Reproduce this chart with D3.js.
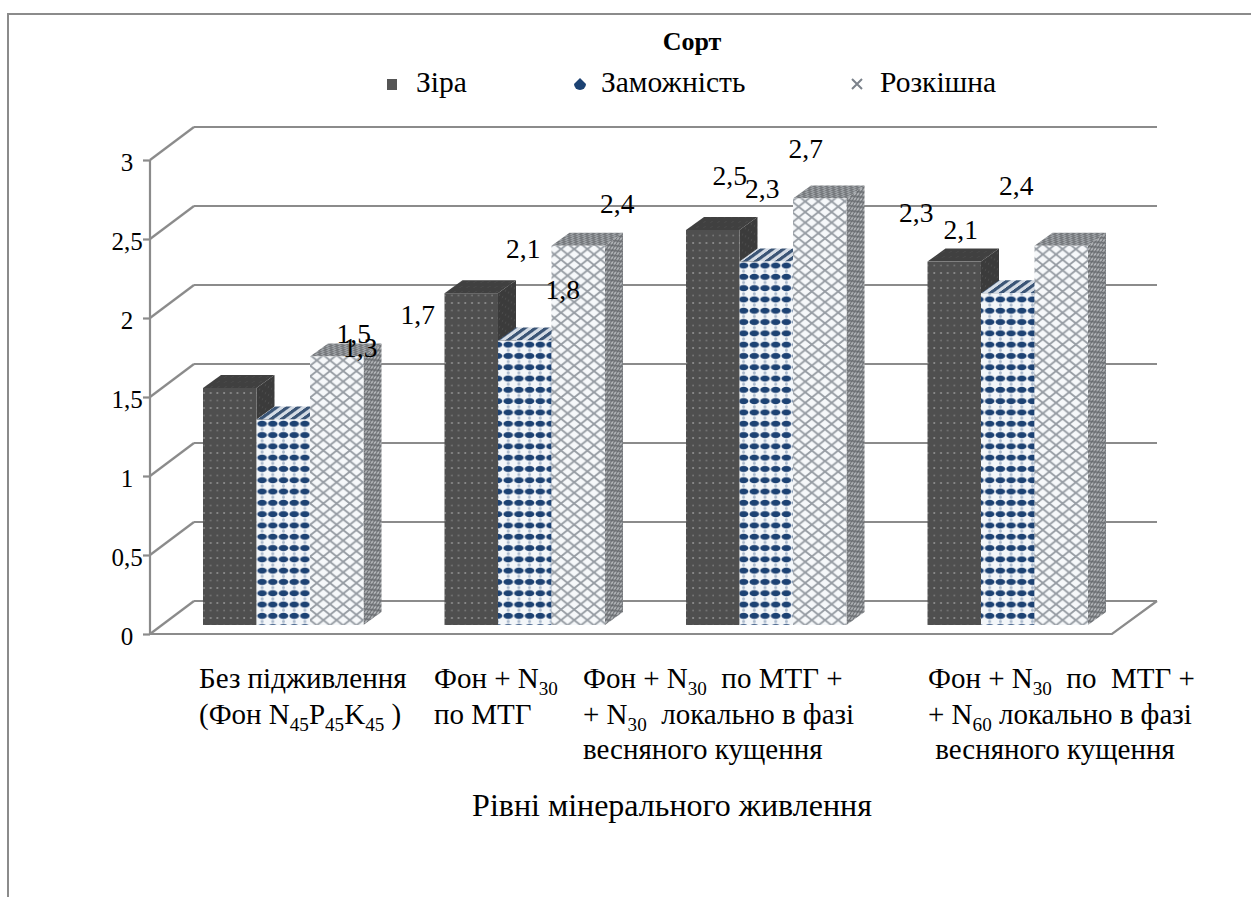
<!DOCTYPE html>
<html>
<head>
<meta charset="utf-8">
<script src="https://cdn.jsdelivr.net/npm/d3@7"></script>
<style>
  html, body { margin: 0; padding: 0; background: #fff; }
  svg { display: block; }
  text { font-family: "Liberation Serif", serif; fill: #000; }
</style>
</head>
<body>
<svg id="chart" width="1251" height="897"></svg>
<script>
// data
const categories = ["Без підживлення", "Фон + N30 по МТГ", "Фон + N30 по МТГ + N30 локально", "Фон + N30 по МТГ + N60 локально"];
const seriesNames = ["Зіра", "Заможність", "Розкішна"];
const zira = [1.5, 2.1, 2.5, 2.3];
const zamozhnist = [1.3, 1.8, 2.3, 2.1];
const rozkishna = [1.7, 2.4, 2.7, 2.4];
const yTicks = [0, 0.5, 1, 1.5, 2, 2.5, 3];
// labels as printed, "_" starts a subscript, "|" ends it
const categoryLines = [
  ["Без підживлення", "(Фон N_45|P_45|K_45| )"],
  ["Фон + N_30|", "по МТГ"],
  ["Фон + N_30|  по МТГ +", "+ N_30|  локально в фазі", "весняного кущення"],
  ["Фон + N_30|  по  МТГ +", "+ N_60| локально в фазі", " весняного кущення"]
];
const categoryTextX = [199, 434, 583, 928];

// the data labels do not sit on their bars in the original, so shift them
const labelShiftX = [[124, 52, 17, -38], [77, 38, -4, -47], [81, 39, -14, -45]];
const labelShiftY = [[-45, -35, -45, -40], [-63, -42, -64, -54], [-32, -33, -40, -51]];

const allValues = [zira, zamozhnist, rozkishna];
const svg = d3.select("#chart");
const defs = svg.append("defs");

const grey = "#8b8b8b";
const catSize = 29;
const subDrop = 7;
const depthX = 44, depthY = -33;     // wall offset from the front axis
const barDX = 18, barDY = -13;       // depth of one bar
const floorGap = 9;                  // bars stand a bit above the front edge

const y = d3.scaleLinear().domain([0, 3]).range([634, 160]);
const xGroup = d3.scaleBand().domain(categories).range([203, 1088]).paddingInner(81 / 241.5);
const xSeries = d3.scaleBand().domain(seriesNames).range([0, xGroup.bandwidth()]);

defs.append("filter").attr("id", "soft").append("feGaussianBlur").attr("stdDeviation", 0.55);

function pattern(id, w, h, bg, skew) {
  const p = defs.append("pattern").attr("id", id)
    .attr("patternUnits", "userSpaceOnUse")
    .attr("width", w).attr("height", h);
  if (skew) p.attr("patternTransform", skew);
  p.append("rect").attr("width", w).attr("height", h).attr("fill", bg);
  return p;
}
function dots(p, list, r, color) {
  list.forEach(d => p.append("circle").attr("cx", d[0]).attr("cy", d[1]).attr("r", r).attr("fill", color));
}
function lattice(p, w, h, color, sw) {
  p.append("path").attr("d", `M0,0L${w},${h}M0,${h}L${w},0`).attr("stroke", color).attr("stroke-width", sw).attr("fill", "none");
}

const skewSide = "skewY(-36)", skewTop = "skewX(-54)";

// Зіра: dark with pale dots
let p = pattern("darkFront", 13.4, 15, "#505050");
dots(p, [[3, 3], [9.7, 3]], 1, "#929292");
dots(p, [[3, 10.5], [9.7, 10.5]], 0.9, "#767676");
p = pattern("darkSide", 6, 8, "#3a3a3a", skewSide);
dots(p, [[1.5, 2], [4.5, 6]], 0.7, "#585858");
p = pattern("darkTop", 7, 5, "#3f3f3f", skewTop);
dots(p, [[2, 2]], 0.7, "#525252");

// Заможність: navy blobs on white
p = pattern("blueFront", 10.7, 11.3, "#f3f6f9");
p.append("ellipse").attr("cx", 5.3).attr("cy", 5.6).attr("rx", 4.8).attr("ry", 3).attr("fill", "#1f4273");
p.append("ellipse").attr("cx", 5.3).attr("cy", 0).attr("rx", 1.5).attr("ry", 1.6).attr("fill", "#a9b8cb");
p.append("ellipse").attr("cx", 5.3).attr("cy", 11.3).attr("rx", 1.5).attr("ry", 1.6).attr("fill", "#a9b8cb");
p = pattern("blueTop", 10.7, 4, "#d5dce5", skewTop);
p.append("rect").attr("x", 0).attr("width", 5.3).attr("height", 4).attr("fill", "#3b5576");
p = pattern("blueSide", 5, 6, "#2f4a70", skewSide);

// Розкішна: grey lattice
p = pattern("crossFront", 13.2, 10.6, "#f6f8fa");
lattice(p, 13.2, 10.6, "#969ca3", 1.8);
p = pattern("crossSide", 6, 5, "#b4b7ba", skewSide);
lattice(p, 6, 5, "#6a6d71", 1.4);
p = pattern("crossTop", 6, 4, "#a0a4a8", skewTop);
lattice(p, 6, 4, "#6f7276", 1);

// walls and floor
const wall = svg.append("g").attr("fill", "none").attr("stroke", grey).attr("stroke-width", 2.2);
yTicks.forEach(t => {
  wall.append("line").attr("x1", 150 + depthX).attr("x2", 1157)
    .attr("y1", y(t) + depthY).attr("y2", y(t) + depthY);
  wall.append("line").attr("x1", 150).attr("x2", 150 + depthX)
    .attr("y1", y(t)).attr("y2", y(t) + depthY);
});
wall.append("path").attr("d", `M150,${y(0)}H1112L1157,${y(0) + depthY}`);

// front axis through d3, the comma is the decimal mark here
const axis = svg.append("g").attr("transform", "translate(150,0)")
  .call(d3.axisLeft(y).tickValues(yTicks).tickSize(7).tickPadding(6)
    .tickFormat(d => String(d).replace(".", ",")));
axis.selectAll("line, path").attr("stroke", grey).attr("stroke-width", 2.2);
axis.select(".domain").attr("d", `M0,${y(3)}V${y(0)}`);
axis.selectAll("text")
  .attr("font-size", 25).attr("font-family", "Liberation Serif").attr("fill", "#000")
  .attr("text-anchor", "middle").attr("x", -23).attr("dy", "0.4em");

// bars
const fills = [
  ["url(#darkFront)", "url(#darkSide)", "url(#darkTop)"],
  ["url(#blueFront)", "url(#blueSide)", "url(#blueTop)"],
  ["url(#crossFront)", "url(#crossSide)", "url(#crossTop)"]
];
const bars = svg.append("g").attr("filter", "url(#soft)");
categories.forEach((cat, i) => {
  seriesNames.forEach((name, s) => {
    const v = allValues[s][i];
    const x0 = xGroup(cat) + xSeries(name);
    const w = xSeries.bandwidth();
    const top = y(v) - floorGap, base = y(0) - floorGap;
    const g = bars.append("g");
    g.append("polygon").attr("fill", fills[s][1])
      .attr("points", [[x0 + w, top], [x0 + w + barDX, top + barDY], [x0 + w + barDX, base + barDY], [x0 + w, base]].join(" "));
    g.append("polygon").attr("fill", fills[s][2])
      .attr("points", [[x0, top], [x0 + barDX, top + barDY], [x0 + w + barDX, top + barDY], [x0 + w, top]].join(" "));
    g.append("rect").attr("x", x0).attr("y", top).attr("width", w).attr("height", base - top).attr("fill", fills[s][0]);
  });
});

// data labels go above the bars
categories.forEach((cat, i) => {
  seriesNames.forEach((name, s) => {
    const v = allValues[s][i];
    svg.append("text")
      .attr("x", xGroup(cat) + xSeries(name) + xSeries.bandwidth() / 2 + labelShiftX[s][i])
      .attr("y", y(v) - floorGap + labelShiftY[s][i])
      .attr("text-anchor", "middle").attr("font-size", 27.5)
      .text(String(v).replace(".", ","));
  });
});

// category labels with subscripts
function richText(sel, str, size) {
  let lift = 0;
  str.split("|").forEach(part => {
    const bits = part.split("_");
    if (bits[0]) {
      sel.append("tspan").attr("font-size", size).attr("dy", lift).style("white-space", "pre").text(bits[0]);
      lift = 0;
    }
    if (bits.length > 1) {
      sel.append("tspan").attr("font-size", size * 0.66).attr("dy", subDrop + lift).text(bits[1]);
      lift = -subDrop;
    }
  });
}
categoryLines.forEach((lines, i) => {
  lines.forEach((line, k) => {
    const t = svg.append("text").attr("x", categoryTextX[i]).attr("y", 688 + k * 35.5)
      .attr("font-size", catSize).style("white-space", "pre");
    richText(t, line, catSize);
  });
});

svg.append("text").attr("x", 672).attr("y", 816).attr("text-anchor", "middle")
  .attr("font-size", 32).text("Рівні мінерального живлення");

// legend
svg.append("text").attr("x", 692).attr("y", 50).attr("text-anchor", "middle")
  .attr("font-size", 26).attr("font-weight", "bold").text("Сорт");
const legendTextX = [416, 601, 880];
seriesNames.forEach((name, s) => {
  svg.append("text").attr("x", legendTextX[s]).attr("y", 92).attr("font-size", 29.5).text(name);
});
const legend = svg.append("g").attr("filter", "url(#soft)");
legend.append("rect").attr("x", 387).attr("y", 79).attr("width", 10).attr("height", 11).attr("fill", "#555");
legend.append("path").attr("d", "M580,78L586,84A6,6 0 1 1 574,84Z").attr("fill", "#1f4273");
legend.append("path").attr("d", "M852,79L862,89M862,79L852,89").attr("stroke", "#7b828b").attr("stroke-width", 2);

// frame of the cropped chart area
svg.append("path").attr("d", "M8,897V14H1251").attr("fill", "none").attr("stroke", grey).attr("stroke-width", 2);
</script>
</body>
</html>
